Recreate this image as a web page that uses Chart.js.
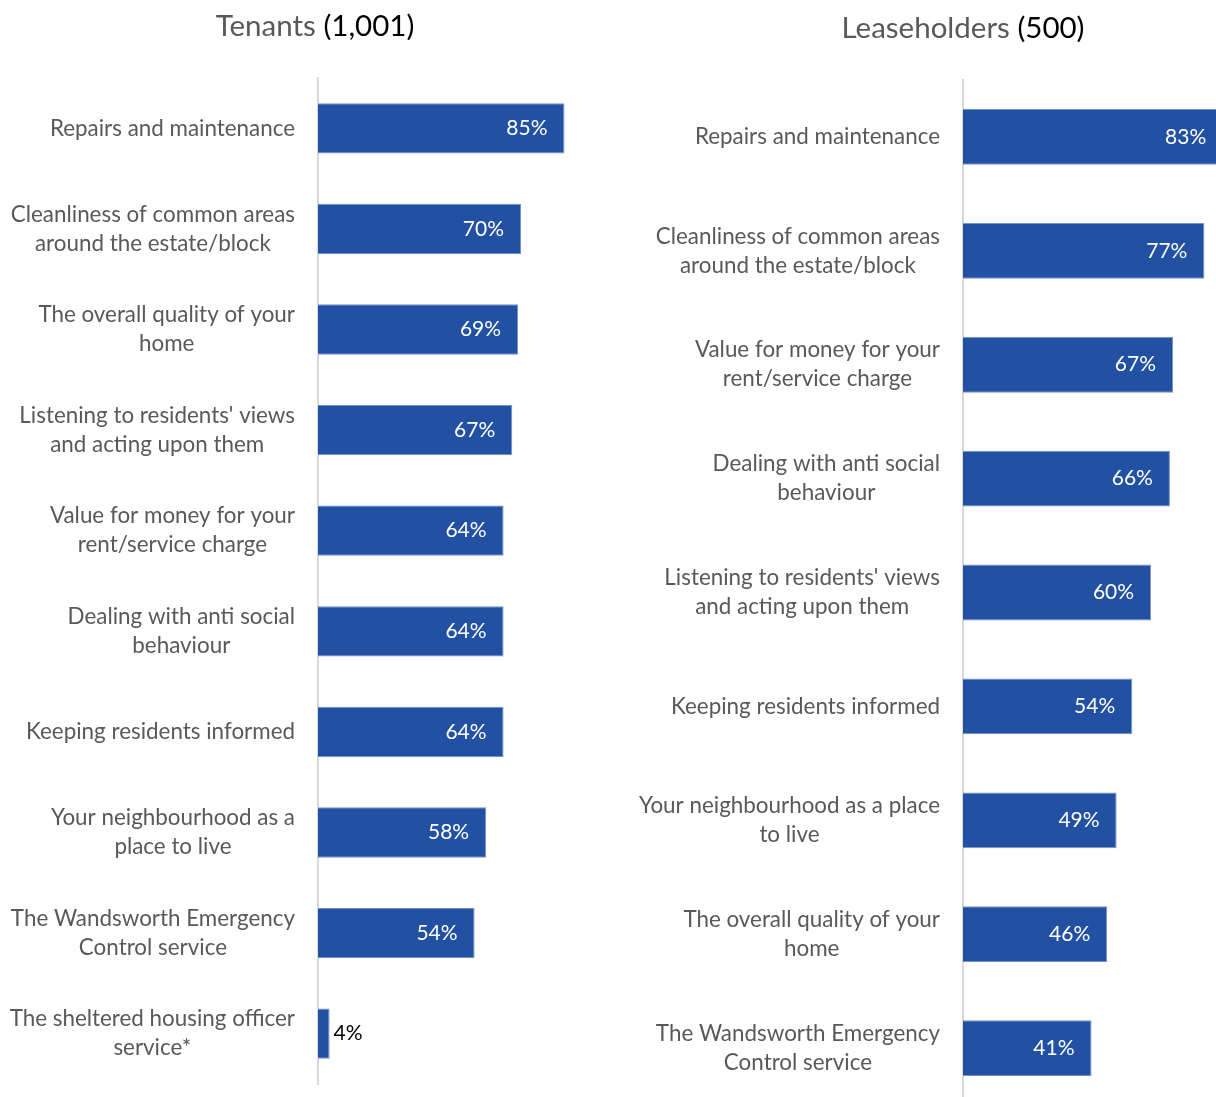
<!DOCTYPE html>
<html>
<head>
<meta charset="utf-8">
<script src="https://cdn.jsdelivr.net/npm/chart.js@4.4.1/dist/chart.umd.min.js"></script>
<style>
  html, body { margin: 0; padding: 0; background: #fff; overflow: hidden; }
  #wrap { position: relative; width: 1216px; height: 1097px; overflow: hidden; }
  #tenants { position: absolute; left: 0; top: 0; }
  #lease { position: absolute; left: 610px; top: 0; }
</style>
</head>
<body>
<div id="wrap">
  <canvas id="tenants" width="608" height="1097"></canvas>
  <canvas id="lease" width="606" height="1110"></canvas>
</div>
<script>
const tenantCategories = [
  ['Repairs and maintenance'],
  ['Cleanliness of common areas', 'around the estate/block'],
  ['The overall quality of your', 'home'],
  ["Listening to residents' views", 'and acting upon them'],
  ['Value for money for your', 'rent/service charge'],
  ['Dealing with anti social', 'behaviour'],
  ['Keeping residents informed'],
  ['Your neighbourhood as a', 'place to live'],
  ['The Wandsworth Emergency', 'Control service'],
  ['The sheltered housing officer', 'service*']
];
const tenantValues = [85, 70, 69, 67, 64, 64, 64, 58, 54, 4];

const leaseCategories = [
  ['Repairs and maintenance'],
  ['Cleanliness of common areas', 'around the estate/block'],
  ['Value for money for your', 'rent/service charge'],
  ['Dealing with anti social', 'behaviour'],
  ["Listening to residents' views", 'and acting upon them'],
  ['Keeping residents informed'],
  ['Your neighbourhood as a place', 'to live'],
  ['The overall quality of your', 'home'],
  ['The Wandsworth Emergency', 'Control service']
];
const leaseValues = [83, 77, 67, 66, 60, 54, 49, 46, 41];

const FONT = 'Lato, "Open Sans", sans-serif';

// titles, category labels and value labels
const textPlugin = {
  id: 'sideText',
  afterDatasetsDraw(chart, args, opts) {
    const ctx = chart.ctx;
    const yScale = chart.scales.y;
    const area = chart.chartArea;
    ctx.save();
    ctx.textBaseline = 'middle';

    ctx.font = opts.titleSize + 'px ' + FONT;
    ctx.textAlign = 'left';
    const w1 = ctx.measureText(opts.title + ' ').width;
    const w2 = ctx.measureText(opts.count).width;
    const tx = opts.titleX - (w1 + w2) / 2;
    ctx.fillStyle = '#595959';
    ctx.fillText(opts.title + ' ', tx, opts.titleY);
    ctx.fillStyle = '#000';
    ctx.fillText(opts.count, tx + w1, opts.titleY);

    ctx.font = opts.labelSize + 'px ' + FONT;
    ctx.fillStyle = '#595959';
    ctx.textAlign = 'center';
    chart.data.labels.forEach((lines, i) => {
      const cy = yScale.getPixelForValue(i);
      const widest = Math.max(...lines.map(l => ctx.measureText(l).width));
      const cx = area.left - opts.gap - widest / 2;
      lines.forEach((l, j) => {
        ctx.fillText(l, cx, cy + (j - (lines.length - 1) / 2) * opts.lineHeight);
      });
    });

    ctx.font = opts.valueSize + 'px ' + FONT;
    const meta = chart.getDatasetMeta(0);
    meta.data.forEach((bar, i) => {
      const txt = chart.data.datasets[0].data[i] + '%';
      if (bar.x - bar.base < 50) {
        ctx.textAlign = 'left';
        ctx.fillStyle = '#000';
        ctx.fillText(txt, bar.x + 4, bar.y);
      } else {
        ctx.textAlign = 'right';
        ctx.fillStyle = '#fff';
        ctx.fillText(txt, bar.x - 17, bar.y);
      }
    });
    ctx.restore();
  }
};

function makeChart(id, cats, vals, o) {
  return new Chart(document.getElementById(id), {
    type: 'bar',
    data: {
      labels: cats,
      datasets: [{
        data: vals,
        backgroundColor: '#2251A3',
        borderColor: '#7391CC',
        borderWidth: 1,
        barPercentage: o.barPct,
        categoryPercentage: 1
      }]
    },
    options: {
      indexAxis: 'y',
      responsive: false,
      animation: false,
      layout: { padding: o.padding },
      plugins: {
        legend: { display: false },
        tooltip: { enabled: false },
        sideText: o.text
      },
      scales: {
        x: { display: false, min: 0, max: o.max },
        y: {
          grid: { display: false },
          border: { color: '#D9D9D9', width: 2 },
          ticks: { display: false },
          afterFit(scale) { scale.width = o.axisWidth; }
        }
      }
    },
    plugins: [textPlugin]
  });
}

makeChart('tenants', tenantCategories, tenantValues, {
  padding: { top: 78, bottom: 13, left: 0, right: 0 },
  axisWidth: 318,
  max: 100,
  barPct: 0.5,
  text: { title: 'Tenants', count: '(1,001)', titleX: 315, titleY: 26, titleSize: 29.5, labelSize: 22.4, valueSize: 21, lineHeight: 29, gap: 23 }
});

makeChart('lease', leaseCategories, leaseValues, {
  padding: { top: 80, bottom: 5, left: 0, right: 0 },
  axisWidth: 353,
  max: 80.7,
  barPct: 0.49,
  text: { title: 'Leaseholders', count: '(500)', titleX: 353, titleY: 28, titleSize: 29.5, labelSize: 22.4, valueSize: 21, lineHeight: 29, gap: 23 }
});
</script>
</body>
</html>
